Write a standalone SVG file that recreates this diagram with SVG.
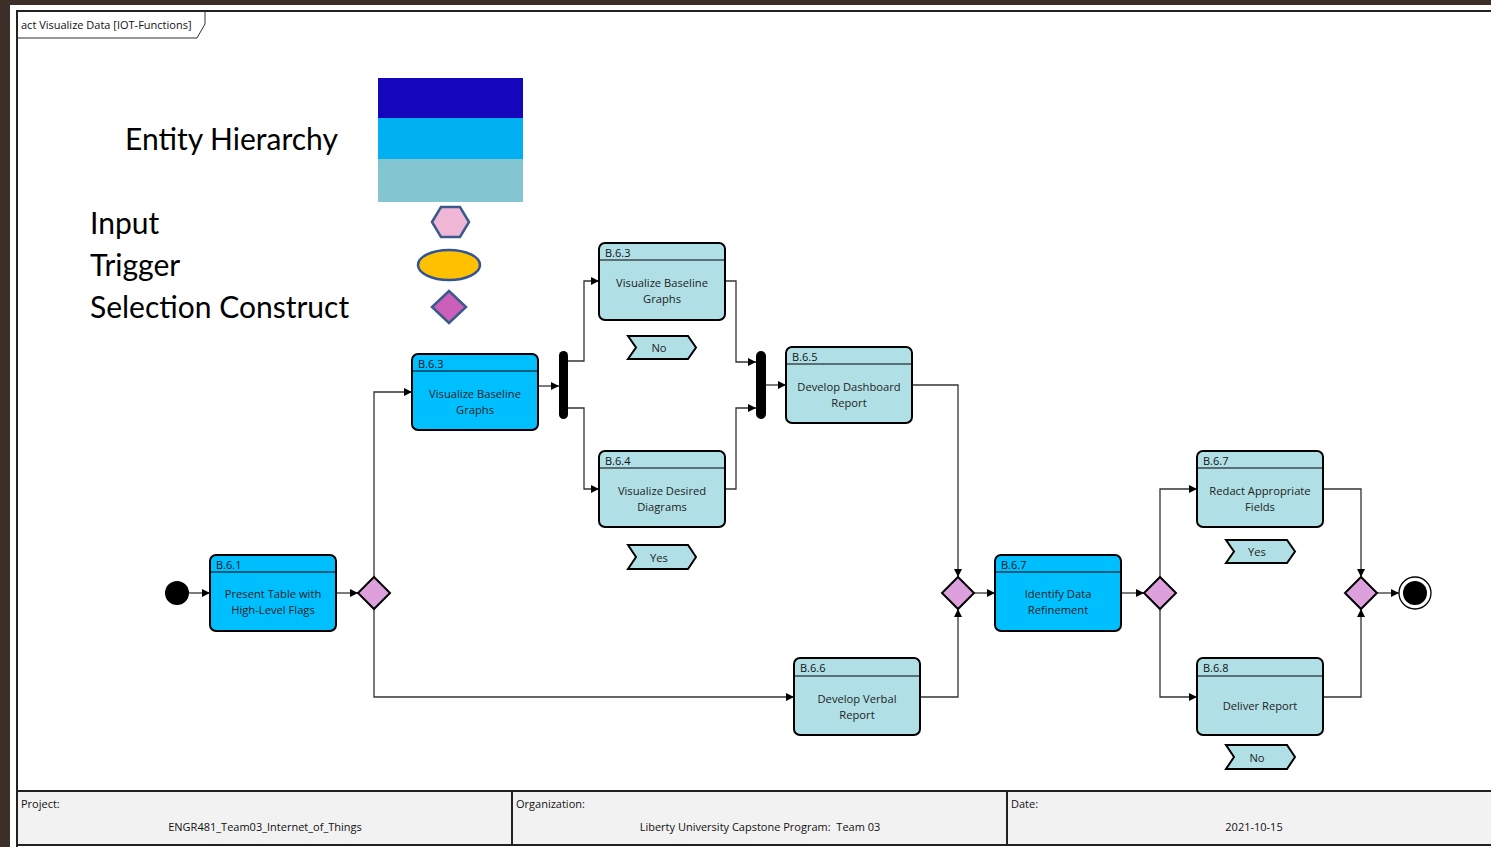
<svg xmlns="http://www.w3.org/2000/svg" width="1491" height="847" viewBox="0 0 1491 847">
<defs>
<marker id="arr" viewBox="0 0 10 10" refX="10" refY="5" markerWidth="8" markerHeight="8" markerUnits="userSpaceOnUse" orient="auto">
<path d="M0,0 L10,5 L0,10 z" fill="#000"/>
</marker>
<style>
.node rect.box{stroke:#000;stroke-width:2}
.light{fill:#B0E0E6}
.blue{fill:#00BFFF}
.hdr{stroke:#000;stroke-width:1.2}
.id{font-family:"Open Sans","Noto Sans",sans-serif;font-size:11px;fill:#111}
.lbl{font-family:"Open Sans","Noto Sans",sans-serif;font-size:11.2px;fill:#222;text-anchor:middle}
.dec{fill:#DDA0DD;stroke:#000;stroke-width:2}
.flag{fill:#B0E0E6;stroke:#000;stroke-width:2}
.conn path{fill:none;stroke:#333;stroke-width:1.3;marker-end:url(#arr)}
.leg{font-family:"Lato","Open Sans",sans-serif;font-size:30px;fill:#000}
.ft{font-family:"Open Sans","Noto Sans",sans-serif;font-size:11px;fill:#111}
</style>
</defs>
<rect x="0" y="0" width="1491" height="847" fill="#3B2F28"/>
<rect x="10" y="5" width="1481" height="842" fill="#FFFFFF"/>
<!-- frame -->
<path d="M17,847 L17,11 L1491,11" fill="none" stroke="#222" stroke-width="2"/>
<path d="M17,38 L197,38 L205,24 L205,11" fill="none" stroke="#333" stroke-width="1"/>
<text x="21" y="29" class="ft">act Visualize Data [IOT-Functions]</text>

<!-- legend -->
<g id="legend">
<text x="125" y="150" class="leg">Entity Hierarchy</text>
<text x="90" y="234" class="leg">Input</text>
<text x="90" y="276" class="leg">Trigger</text>
<text x="90" y="318" class="leg">Selection Construct</text>
<rect x="378" y="78" width="145" height="40" fill="#1606BB"/>
<rect x="378" y="118" width="145" height="41" fill="#00B0F0"/>
<rect x="378" y="159" width="145" height="43" fill="#83C5D1"/>
<polygon points="432,222 441,207 460,207 469,222 460,237 441,237" fill="#F0B6D6" stroke="#3A5A8C" stroke-width="2.5"/>
<ellipse cx="449" cy="265" rx="31" ry="15" fill="#FFC000" stroke="#2F5597" stroke-width="2.5"/>
<polygon points="449,291 466,307 449,323 432,307" fill="#CC5FB8" stroke="#3A5A8C" stroke-width="2.5"/>
</g>

<!-- connectors -->
<g id="connectors" class="conn">
<path d="M189,593 L210,593"/>
<path d="M336,593 L358,593"/>
<path d="M374,577 L374,392 L412,392"/>
<path d="M374,609 L374,697 L794,697"/>
<path d="M538,386 L559,386"/>
<path d="M568,361 L584,361 L584,281 L599,281"/>
<path d="M568,408 L584,408 L584,489 L599,489"/>
<path d="M725,281 L736,281 L736,362 L756,362"/>
<path d="M725,489 L736,489 L736,408 L756,408"/>
<path d="M766,385 L786,385"/>
<path d="M912,385 L958,385 L958,577"/>
<path d="M920,697 L958,697 L958,609"/>
<path d="M974,593 L995,593"/>
<path d="M1121,593 L1144,593"/>
<path d="M1160,577 L1160,489 L1197,489"/>
<path d="M1160,609 L1160,697 L1197,697"/>
<path d="M1323,489 L1361,489 L1361,577"/>
<path d="M1323,697 L1361,697 L1361,609"/>
<path d="M1377,593 L1399,593"/>
</g>

<!-- nodes -->
<g id="start"><circle cx="177" cy="593" r="12" fill="#000"/></g>

<g id="b61" class="node">
<rect class="box blue" x="210" y="555" width="126" height="76" rx="6"/>
<line class="hdr" x1="210" y1="572" x2="336" y2="572"/>
<text class="id" x="216" y="569">B.6.1</text>
<text class="lbl" x="273" y="598">Present Table with</text>
<text class="lbl" x="273" y="614">High-Level Flags</text>
</g>

<g id="dec1"><polygon class="dec" points="374,577 390,593 374,609 358,593"/></g>

<g id="b63a" class="node">
<rect class="box blue" x="412" y="354" width="126" height="76" rx="6"/>
<line class="hdr" x1="412" y1="371" x2="538" y2="371"/>
<text class="id" x="418" y="368">B.6.3</text>
<text class="lbl" x="475" y="398">Visualize Baseline</text>
<text class="lbl" x="475" y="414">Graphs</text>
</g>

<g id="fork"><rect x="559" y="351" width="9" height="68" rx="4.5" fill="#000"/></g>

<g id="b63b" class="node">
<rect class="box light" x="599" y="243" width="126" height="77" rx="6"/>
<line class="hdr" x1="599" y1="260" x2="725" y2="260"/>
<text class="id" x="605" y="257">B.6.3</text>
<text class="lbl" x="662" y="287">Visualize Baseline</text>
<text class="lbl" x="662" y="303">Graphs</text>
</g>

<g id="flagNo1"><polygon class="flag" points="628,336 688,336 696,347.5 688,359 628,359 636,347.5"/><text class="lbl" x="659" y="352">No</text></g>

<g id="b64" class="node">
<rect class="box light" x="599" y="451" width="126" height="76" rx="6"/>
<line class="hdr" x1="599" y1="468" x2="725" y2="468"/>
<text class="id" x="605" y="465">B.6.4</text>
<text class="lbl" x="662" y="495">Visualize Desired</text>
<text class="lbl" x="662" y="511">Diagrams</text>
</g>

<g id="flagYes1"><polygon class="flag" points="628,545 688,545 696,557 688,569 628,569 636,557"/><text class="lbl" x="659" y="562">Yes</text></g>

<g id="join"><rect x="756" y="351" width="10" height="68" rx="5" fill="#000"/></g>

<g id="b65" class="node">
<rect class="box light" x="786" y="347" width="126" height="76" rx="6"/>
<line class="hdr" x1="786" y1="364" x2="912" y2="364"/>
<text class="id" x="792" y="361">B.6.5</text>
<text class="lbl" x="849" y="391">Develop Dashboard</text>
<text class="lbl" x="849" y="407">Report</text>
</g>

<g id="b66" class="node">
<rect class="box light" x="794" y="658" width="126" height="77" rx="6"/>
<line class="hdr" x1="794" y1="676" x2="920" y2="676"/>
<text class="id" x="800" y="672">B.6.6</text>
<text class="lbl" x="857" y="703">Develop Verbal</text>
<text class="lbl" x="857" y="719">Report</text>
</g>

<g id="dec2"><polygon class="dec" points="958,577 974,593 958,609 942,593"/></g>

<g id="b67a" class="node">
<rect class="box blue" x="995" y="555" width="126" height="76" rx="6"/>
<line class="hdr" x1="995" y1="572" x2="1121" y2="572"/>
<text class="id" x="1001" y="569">B.6.7</text>
<text class="lbl" x="1058" y="598">Identify Data</text>
<text class="lbl" x="1058" y="614">Refinement</text>
</g>

<g id="dec3"><polygon class="dec" points="1160,577 1176,593 1160,609 1144,593"/></g>

<g id="b67b" class="node">
<rect class="box light" x="1197" y="451" width="126" height="76" rx="6"/>
<line class="hdr" x1="1197" y1="468" x2="1323" y2="468"/>
<text class="id" x="1203" y="465">B.6.7</text>
<text class="lbl" x="1260" y="495">Redact Appropriate</text>
<text class="lbl" x="1260" y="511">Fields</text>
</g>

<g id="flagYes2"><polygon class="flag" points="1226,540 1287,540 1295,551.5 1287,563 1226,563 1234,551.5"/><text class="lbl" x="1257" y="556">Yes</text></g>

<g id="b68" class="node">
<rect class="box light" x="1197" y="658" width="126" height="77" rx="6"/>
<line class="hdr" x1="1197" y1="676" x2="1323" y2="676"/>
<text class="id" x="1203" y="672">B.6.8</text>
<text class="lbl" x="1260" y="710">Deliver Report</text>
</g>

<g id="flagNo2"><polygon class="flag" points="1226,745 1287,745 1295,757 1287,769 1226,769 1234,757"/><text class="lbl" x="1257" y="762">No</text></g>

<g id="dec4"><polygon class="dec" points="1361,577 1377,593 1361,609 1345,593"/></g>

<g id="end"><circle cx="1415" cy="593" r="16" fill="#fff" stroke="#000" stroke-width="1.3"/><circle cx="1415" cy="593" r="12" fill="#000"/></g>

<!-- footer -->
<g id="footer">
<rect x="17" y="791" width="1480" height="54" fill="#F2F2F2" stroke="#222" stroke-width="2"/>
<line x1="512" y1="791" x2="512" y2="845" stroke="#222" stroke-width="2"/>
<line x1="1007" y1="791" x2="1007" y2="845" stroke="#222" stroke-width="2"/>
<text class="ft" x="21" y="808">Project:</text>
<text class="ft" x="265" y="831" text-anchor="middle">ENGR481_Team03_Internet_of_Things</text>
<text class="ft" x="516" y="808">Organization:</text>
<text class="ft" x="760" y="831" text-anchor="middle" xml:space="preserve">Liberty University Capstone Program:  Team 03</text>
<text class="ft" x="1011" y="808">Date:</text>
<text class="ft" x="1254" y="831" text-anchor="middle">2021-10-15</text>
</g>
</svg>
